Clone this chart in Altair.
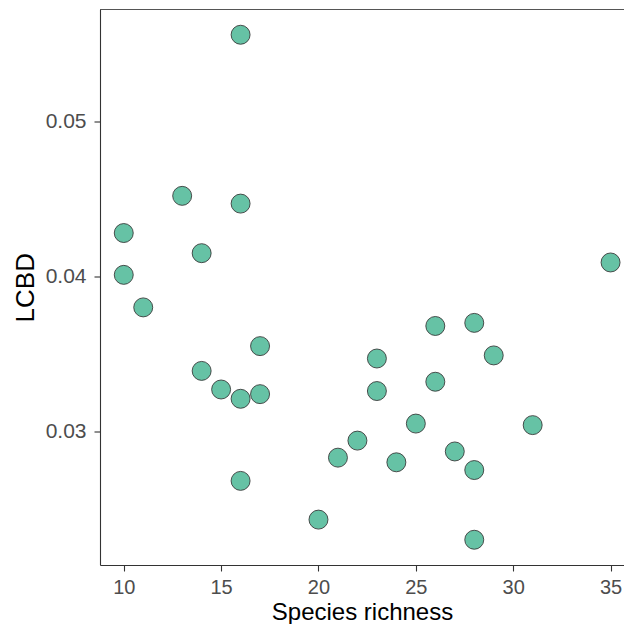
import altair as alt
import pandas as pd

richness = [16, 13, 16, 10, 14, 10, 11, 17, 14, 15, 16, 17, 16, 20,
            26, 28, 29, 23, 26, 23, 25, 31, 22, 21, 24, 27, 28, 28, 35]
lcbd = [0.0556, 0.0452, 0.0447, 0.0428, 0.0415, 0.0401, 0.0380, 0.0355,
        0.0339, 0.0327, 0.0321, 0.0324, 0.0268, 0.0243, 0.0368, 0.0370,
        0.0349, 0.0347, 0.0332, 0.0326, 0.0305, 0.0304, 0.0294, 0.0283,
        0.0280, 0.0287, 0.0275, 0.0230, 0.0409]
x_ticks = [10, 15, 20, 25, 30, 35]
y_ticks = [0.03, 0.04, 0.05]

df = pd.DataFrame({"richness": richness, "lcbd": lcbd})

FONT = "Liberation Sans"
W, H = 524, 555.5

points = alt.Chart(df).mark_circle(
    size=360, fill="#66C2A5", opacity=1, stroke="#333333", strokeWidth=0.85
).encode(
    x=alt.X("richness:Q", title="Species richness",
            scale=alt.Scale(domain=[8.78, 35.69], nice=False, zero=False),
            axis=alt.Axis(values=x_ticks, format="d", labelPadding=6, labelFontSize=20,
                          titleBaseline="alphabetic", titleY=54, titleFontSize=24)),
    y=alt.Y("lcbd:Q", title="LCBD",
            scale=alt.Scale(domain=[0.02137, 0.05723], nice=False, zero=False),
            axis=alt.Axis(values=y_ticks, format=".2f", labelPadding=8,
                          titleBaseline="alphabetic", titleX=-67)),
)

top_line = alt.Chart(df).mark_rule(color="#555555", strokeWidth=1).encode(
    x=alt.value(0), x2=alt.value(W), y=alt.value(0)
)

chart = alt.layer(top_line, points).properties(
    width=W, height=H,
    autosize=alt.AutoSizeParams(type="none"),
    padding={"left": 92, "top": 1.5, "right": 0, "bottom": 59},
).configure_view(stroke=None).configure_axis(
    grid=False,
    domainColor="#333333", domainWidth=1.1,
    tickColor="#333333", tickWidth=1.1, tickSize=6,
    labelFont=FONT, labelFontSize=21, labelColor="#4D4D4D",
    titleFont=FONT, titleFontSize=26, titleColor="#000000", titleFontWeight="normal",
)

chart.save("out.html", embed_options={"renderer": "svg", "actions": False})
